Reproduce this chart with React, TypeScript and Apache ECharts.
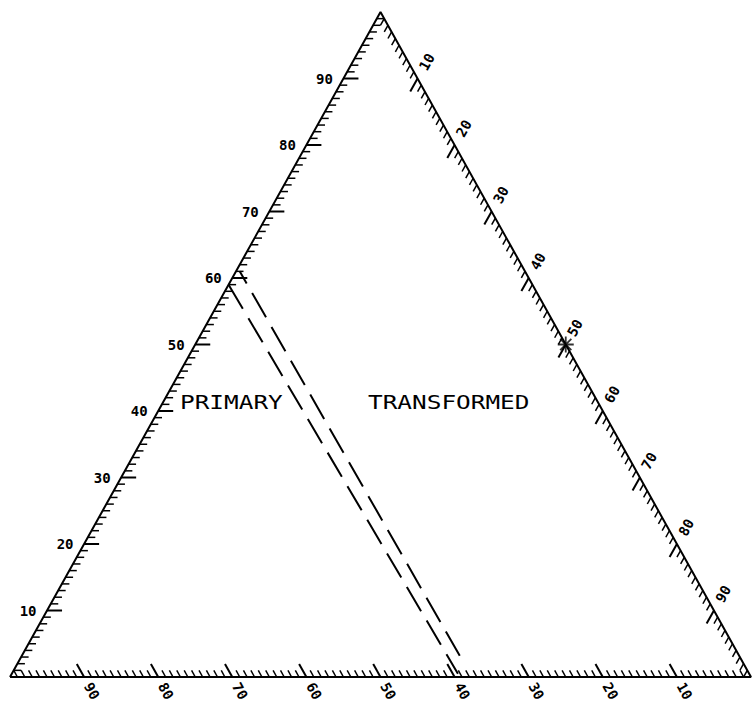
import { useEffect, useRef } from "react";
import * as echarts from "echarts";

// Compositions are [A, B, C] in percent:
// A is read on the bottom edge (100 at the left corner),
// B on the left edge (100 at the apex),
// C on the right edge (100 at the right corner).

const corners = [
  [100, 0, 0],
  [0, 0, 100],
  [0, 100, 0],
  [100, 0, 0],
];

// 0 = bottom edge (A), 1 = left edge (B), 2 = right edge (C)
const edges = [0, 1, 2];
const tickSteps = Array.from({ length: 99 }, (_, i) => i + 1);
const tickLabels = ["10", "20", "30", "40", "50", "60", "70", "80", "90"];

// The two dashed boundaries between the primary and transformed fields
const boundaryInner = [
  [41, 59, 0],
  [39.3, 0.5, 60.2],
];
const boundaryOuter = [
  [38.5, 61, 0.5],
  [37.7, 2.3, 60],
];

// Starred composition on the right edge
const markedPoint = [0, 50, 50];

const fieldNames = ["PRIMARY", "TRANSFORMED"];

const toXY = (abc: number[]) => [(abc[2] + abc[1] / 2) / 100, abc[1] / 100];

export default function App() {
  const ref = useRef<HTMLDivElement>(null);

  useEffect(() => {
    if (!ref.current) return;
    const chart = echarts.init(ref.current, undefined, { renderer: "svg" });

    const tickData: number[][] = [];
    edges.forEach((e) => tickSteps.forEach((v) => tickData.push([e, v])));

    const fieldAnchors = [
      [0.2294, 0.4135],
      [0.4831, 0.4135],
    ];

    chart.setOption({
      animation: false,
      backgroundColor: "#ffffff",
      grid: { left: 10, right: 2, top: 12, bottom: 27 },
      xAxis: { type: "value", min: 0, max: 1, show: false },
      yAxis: { type: "value", min: 0, max: 1, show: false },
      series: [
        {
          type: "line",
          data: corners.map(toXY),
          symbol: "none",
          lineStyle: { color: "#000", width: 2 },
          silent: true,
        },
        {
          type: "custom",
          data: tickData,
          silent: true,
          clip: false,
          renderItem: (_params: any, api: any) => {
            const edge = api.value(0);
            const v = api.value(1);
            let base: number[];
            let inner: number[];
            if (edge === 0) {
              base = [v, 0, 100 - v];
              inner = [v, 1, 99 - v];
            } else if (edge === 1) {
              base = [100 - v, v, 0];
              inner = [99 - v, v, 1];
            } else {
              base = [0, 100 - v, v];
              inner = [1, 99 - v, v];
            }
            const p = api.coord(toXY(base));
            const q = api.coord(toXY(inner));
            let dx = q[0] - p[0];
            let dy = q[1] - p[1];
            const n = Math.hypot(dx, dy) || 1;
            dx /= n;
            dy /= n;
            const major = v % 10 === 0;
            const len = major ? 15 : 7.5;
            const children: any[] = [
              {
                type: "line",
                shape: { x1: p[0], y1: p[1], x2: p[0] + dx * len, y2: p[1] + dy * len },
                style: { stroke: "#000", lineWidth: major ? 2 : 1.5 },
              },
            ];
            if (major) {
              let rx = dx;
              let ry = dy;
              if (rx < 0) {
                rx = -rx;
                ry = -ry;
              }
              const rot = Math.atan2(-ry, rx);
              const gap = edge === 0 ? 16 : 19;
              children.push({
                type: "text",
                x: p[0] - dx * gap,
                y: p[1] - dy * gap,
                rotation: rot,
                style: {
                  text: tickLabels[v / 10 - 1],
                  fill: "#000",
                  font: "bold 14px 'DejaVu Sans Mono'",
                  lineHeight: 13,
                  align: "center",
                  verticalAlign: "middle",
                },
              });
            }
            return { type: "group", children };
          },
        },
        {
          type: "line",
          data: boundaryInner.map(toXY),
          symbol: "none",
          lineStyle: { color: "#000", width: 2, type: [28, 11] },
          silent: true,
        },
        {
          type: "line",
          data: boundaryOuter.map(toXY),
          symbol: "none",
          lineStyle: { color: "#000", width: 2, type: [28, 11], dashOffset: 14 },
          silent: true,
        },
        {
          type: "scatter",
          data: [toXY(markedPoint)],
          symbol: "path://M0 -10 L0 10 M-10 0 L10 0 M-7 -7 L7 7 M-7 7 L7 -7",
          symbolSize: 16,
          itemStyle: { color: "rgba(0,0,0,0)", borderColor: "#000", borderWidth: 1.8 },
          silent: true,
        },
        {
          type: "custom",
          data: fieldAnchors.map((pt, i) => [pt[0], pt[1], i]),
          silent: true,
          renderItem: (_params: any, api: any) => {
            const p = api.coord([api.value(0), api.value(1)]);
            return {
              type: "text",
              x: p[0],
              y: p[1],
              scaleX: 1.22,
              style: {
                text: fieldNames[api.value(2)],
                fill: "#000",
                font: "20px 'DejaVu Sans Mono'",
                align: "left",
                verticalAlign: "middle",
              },
            };
          },
        },
      ],
    });

    return () => chart.dispose();
  }, []);

  return (
    <div
      ref={ref}
      style={{ position: "fixed", left: 0, top: 0, width: 753, height: 704, background: "#fff" }}
    />
  );
}
